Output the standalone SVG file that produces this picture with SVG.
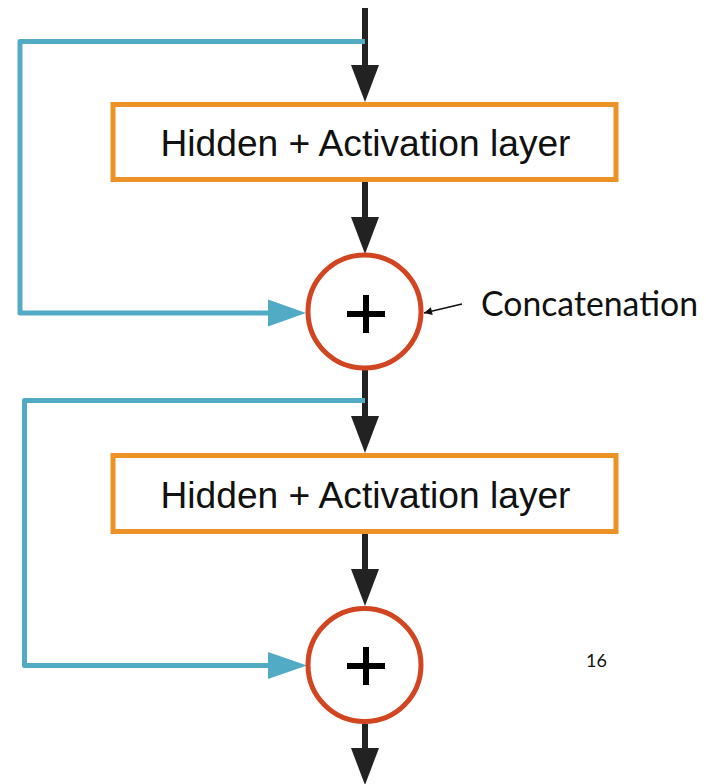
<svg xmlns="http://www.w3.org/2000/svg" width="706" height="784" viewBox="0 0 706 784">
  <style>
    .layer { fill: #ffffff; stroke: #ED9226; stroke-width: 5; }
    .layer-label { font-family: "Liberation Sans", Arial, sans-serif; font-size: 36px; fill: #111111; text-anchor: middle; }
    .concat { fill: #ffffff; stroke: #D14521; stroke-width: 5; }
    .plus { stroke: #000000; stroke-width: 6; fill: none; }
    .flow { stroke: #222222; stroke-width: 6; fill: none; }
    .skip { stroke: #52ABC4; stroke-width: 5; fill: none; stroke-linejoin: round; }
    .note { font-family: "Lato", "Open Sans", sans-serif; font-size: 35px; fill: #111111; }
    .page { font-family: "Lato", "Open Sans", sans-serif; font-size: 18px; fill: #111111; }
  </style>
  <defs>
    <marker id="thin-head" viewBox="0 0 10 10" refX="10" refY="5" markerWidth="10" markerHeight="8" markerUnits="userSpaceOnUse" orient="auto">
      <path d="M0,0 L10,5 L0,10 z" fill="#111111"/>
    </marker>
  </defs>

  <!-- connectors -->
  <g id="connectors">
    <!-- main forward path -->
    <line class="flow" x1="365" y1="8" x2="365" y2="68"/>
    <polygon points="351,65 379,65 365,102" fill="#222222"/>
    <line class="flow" x1="365" y1="182" x2="365" y2="220"/>
    <polygon points="351,217 379,217 365,254" fill="#222222"/>
    <line class="flow" x1="365" y1="368" x2="365" y2="419"/>
    <polygon points="351,416 379,416 365,453" fill="#222222"/>
    <line class="flow" x1="365" y1="534" x2="365" y2="572"/>
    <polygon points="351,569 379,569 365,606" fill="#222222"/>
    <line class="flow" x1="365" y1="724" x2="365" y2="751"/>
    <polygon points="351,748 379,748 365,785" fill="#222222"/>

    <!-- skip connections -->
    <polyline class="skip" points="365,41.5 20,41.5 20,313 270,313"/>
    <polygon points="268,299.5 268,326.5 306,313" fill="#52ABC4"/>
    <polyline class="skip" points="365,400.5 24.5,400.5 24.5,665.5 270,665.5"/>
    <polygon points="268,652 268,679 307,665.5" fill="#52ABC4"/>

    <!-- label pointer -->
    <line x1="462" y1="304" x2="424" y2="313" stroke="#111111" stroke-width="1.6" marker-end="url(#thin-head)"/>
  </g>

  <!-- nodes -->
  <g id="hidden-1">
    <rect class="layer" x="113" y="104.5" width="503" height="75"/>
    <text class="layer-label" x="365.5" y="156" textLength="410" lengthAdjust="spacingAndGlyphs">Hidden + Activation layer</text>
  </g>

  <g id="concat-1">
    <circle class="concat" cx="364.5" cy="311.5" r="56.5"/>
    <line class="plus" x1="347" y1="314" x2="385" y2="314"/>
    <line class="plus" x1="366" y1="295" x2="366" y2="333"/>
  </g>

  <g id="hidden-2">
    <rect class="layer" x="113" y="455.5" width="503" height="76"/>
    <text class="layer-label" x="365.5" y="508" textLength="410" lengthAdjust="spacingAndGlyphs">Hidden + Activation layer</text>
  </g>

  <g id="concat-2">
    <circle class="concat" cx="364.5" cy="665" r="56.5"/>
    <line class="plus" x1="347" y1="666" x2="385" y2="666"/>
    <line class="plus" x1="366" y1="647" x2="366" y2="685"/>
  </g>

  <g id="concat-label">
    <text class="note" x="481" y="316" textLength="217" lengthAdjust="spacingAndGlyphs">Concatenation</text>
  </g>

  <text class="page" x="586" y="667">16</text>
</svg>
